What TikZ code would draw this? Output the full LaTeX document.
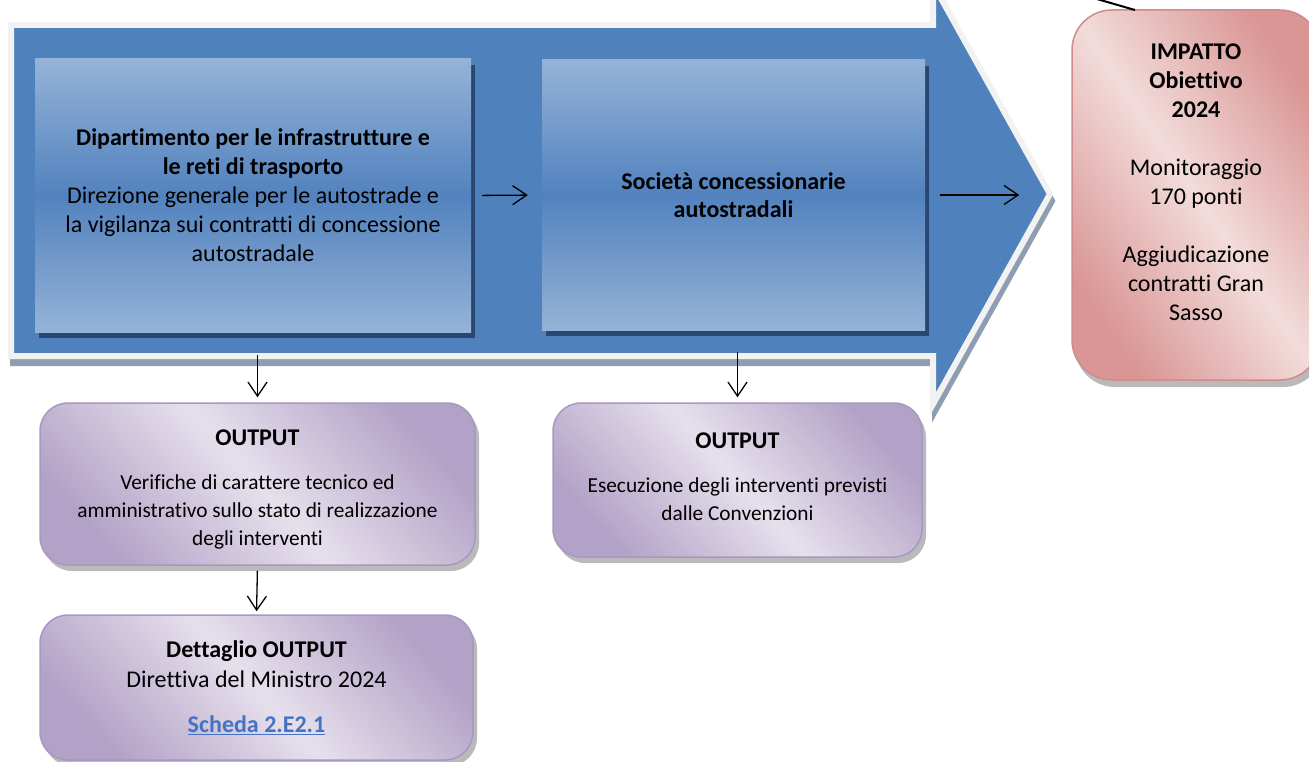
\documentclass[tikz,border=0pt]{standalone}
\usepackage{fontspec}
\setmainfont{Carlito}[RawFeature={-liga;-clig;-calt;-dlig}]
\usetikzlibrary{arrows.meta,shadows,calc}
\definecolor{arrowblue}{HTML}{4F81BD}
\definecolor{arrowborder}{HTML}{F2F2F2}
\definecolor{arrowshadow}{HTML}{8E9DB1}
\definecolor{boxlight}{HTML}{95B3D7}
\definecolor{boxmid}{HTML}{5282BE}
\definecolor{boxshadow}{HTML}{2A4672}
\definecolor{purpdark}{HTML}{B3A2C7}
\definecolor{purplight}{HTML}{E6E0EC}
\definecolor{purpborder}{HTML}{A897C3}
\definecolor{pinkdark}{HTML}{D99694}
\definecolor{pinklight}{HTML}{F2DCDB}
\definecolor{pinkborder}{HTML}{D08C8A}
\definecolor{linkblue}{HTML}{4472C4}
\begin{document}
\begin{tikzpicture}[x=1pt,y=-1pt,
  bluebox/.style={top color=boxlight, bottom color=boxlight, middle color=boxmid,
    inner sep=0pt, align=center, font=\fontsize{24}{29}\selectfont,
    general shadow={fill=boxshadow, shadow xshift=4pt, shadow yshift=-6pt}},
  purplebox/.style={rounded corners=28pt, draw=purpborder, line width=1.5pt,
    top color=purpdark, bottom color=purpdark, middle color=purplight, shading angle=-48,
    inner sep=0pt, align=center,
    general shadow={fill=black!45, opacity=0.6, shadow xshift=4pt, shadow yshift=-6pt}},
  pinkbox/.style={rounded corners=40pt, draw=pinkborder, line width=1.5pt,
    top color=pinkdark, bottom color=pinkdark, middle color=pinklight, shading angle=-56,
    inner sep=0pt,
    general shadow={fill=black!45, opacity=0.6, shadow xshift=3pt, shadow yshift=-7pt}},
  conn/.style={line width=1.3pt, -{Straight Barb[length=14pt,width=19pt]}},
  bodyfont/.style={font=\fontsize{24}{29}\selectfont},
  smallfont/.style={font=\fontsize{21.33}{28}\selectfont},
  boxtext/.style={align=center, inner sep=0pt}
]
\useasboundingbox (0,0) rectangle (1309,762);
\clip (0,0) rectangle (1309,762);

% big arrow: shadow and body
\draw[line width=6pt, draw=arrowshadow, fill=arrowshadow, line join=miter]
  (13,32) -- (935,32) -- (935,-9) -- (1052,201) -- (935,411) -- (935,363) -- (13,363) -- cycle;
\draw[line width=6pt, draw=arrowborder, fill=arrowblue, line join=miter]
  (11,25) -- (933,25) -- (933,-16) -- (1050,194) -- (933,404) -- (933,356) -- (11,356) -- cycle;

% blue boxes
\node[bluebox, minimum width=436pt, minimum height=273pt] (b1) at (253,195.5)
  {\textbf{Dipartimento per le infrastrutture e}\\
   \textbf{le reti di trasporto}\\
   Direzione generale per le autostrade e\\
   la vigilanza sui contratti di concessione\\
   autostradale};
\node[bluebox, font=\fontsize{24}{28}\selectfont, minimum width=383pt, minimum height=270pt] (b2) at (733.5,195)
  {\textbf{Società concessionarie}\\ \textbf{autostradali}};

% purple boxes
\node[purplebox, minimum width=435pt, minimum height=162pt] (o1) at (257.5,484) {};
\node[boxtext, smallfont] (o1t) at (257.5,489)
  {{\fontsize{24}{29}\selectfont\bfseries OUTPUT}\\[16pt]
   Verifiche di carattere tecnico ed\\
   amministrativo sullo stato di realizzazione\\
   degli interventi};
\node[purplebox, minimum width=369pt, minimum height=154pt] (o2) at (737.5,480) {};
\node[boxtext, smallfont] (o2t) at (737.5,476.5)
  {{\fontsize{24}{29}\selectfont\bfseries OUTPUT}\\[16pt]
   Esecuzione degli interventi previsti\\
   dalle Convenzioni};
\node[purplebox, font=\fontsize{24}{30}\selectfont, minimum width=433pt, minimum height=145pt] (det) at (256.5,687.5)
  {\textbf{Dettaglio OUTPUT}\\
   Direttiva del Ministro 2024\\[15pt]
   \textcolor{linkblue}{\underline{\textbf{Scheda 2.E2.1}}}};

% pink box
\node[pinkbox, minimum width=248pt, minimum height=370pt] (imp) at (1196,195) {};
\node[boxtext, bodyfont] (impt) at (1196,182.5)
  {\textbf{IMPATTO}\\ \textbf{Obiettivo}\\ \textbf{2024}\\[29pt]
   Monitoraggio\\ 170 ponti\\[29pt]
   Aggiudicazione\\ contratti Gran\\ Sasso};

% connectors
\draw[conn, shorten <=11pt, shorten >=14pt] (b1.east) -- (b2.west);
\draw[conn, shorten <=15pt, shorten >=52pt] (b2.east) -- (imp.west |- b2.east);
\draw[conn, shorten <=23pt, shorten >=5pt] (b1.south -| o1.north) -- (o1.north);
\draw[conn, shorten <=22pt, shorten >=5pt] (b2.south -| o2.north) -- (o2.north);
\draw[conn, shorten <=5pt, shorten >=3pt] (o1.south) -- (det.north);

% line entering the impact box from above
\coordinate (la) at (1083,-5);
\coordinate (lb) at (1135,10);
\draw[line width=2pt] (la) -- (lb);
\end{tikzpicture}
\end{document}
